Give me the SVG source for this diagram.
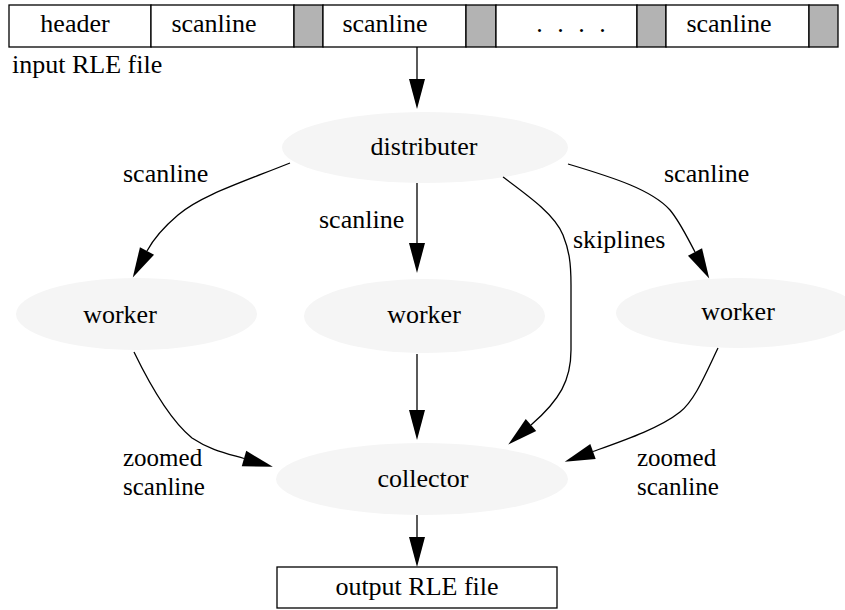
<svg xmlns="http://www.w3.org/2000/svg" width="845" height="610" viewBox="0 0 845 610">
  <style>
    text { font-family: "Liberation Serif", "Times New Roman", serif; font-size: 26px; fill: #000; }
    .mid { text-anchor: middle; }
    .two { font-size: 25px; }
    .node { fill: #f5f5f5; stroke: none; }
    .cell { fill: #fff; stroke: #000; stroke-width: 1.3; }
    .gap { fill: #b3b3b3; stroke: #000; stroke-width: 1.3; }
    .edge { fill: none; stroke: #000; stroke-width: 1.3; marker-end: url(#head); }
  </style>
  <defs>
    <marker id="head" markerUnits="userSpaceOnUse" markerWidth="31" markerHeight="17" refX="0" refY="8" orient="auto" overflow="visible">
      <path d="M0,0 L30,8 L0,16 Z" fill="#000"/>
    </marker>
  </defs>

  <rect width="845" height="610" fill="#fff"/>

  <!-- input file: header, scanlines and padding blocks -->
  <g id="input-file">
    <rect class="cell" x="9" y="5" width="142" height="42"/>
    <rect class="cell" x="151" y="5" width="143" height="42"/>
    <rect class="gap" x="294" y="5" width="29" height="42"/>
    <rect class="cell" x="323" y="5" width="143" height="42"/>
    <rect class="gap" x="466" y="5" width="30" height="42"/>
    <rect class="cell" x="496" y="5" width="141" height="42"/>
    <rect class="gap" x="637" y="5" width="29" height="42"/>
    <rect class="cell" x="666" y="5" width="143" height="42"/>
    <rect class="gap" x="809" y="5" width="29" height="42"/>
    <text class="mid" x="75" y="32">header</text>
    <text class="mid" x="214" y="32">scanline</text>
    <text class="mid" x="385" y="32">scanline</text>
    <text class="mid" x="573" y="32" letter-spacing="4">. . . .</text>
    <text class="mid" x="729" y="32">scanline</text>
    <text x="12" y="73">input RLE file</text>
  </g>

  <g id="distributer">
    <ellipse class="node" cx="425" cy="147.5" rx="143" ry="35.5"/>
    <text class="mid" x="424" y="155">distributer</text>
  </g>

  <g id="worker-left">
    <ellipse class="node" cx="136.5" cy="314" rx="120.5" ry="36"/>
    <text class="mid" x="120" y="323">worker</text>
  </g>

  <g id="worker-middle">
    <ellipse class="node" cx="424.5" cy="316" rx="120.5" ry="37"/>
    <text class="mid" x="424" y="323">worker</text>
  </g>

  <g id="worker-right">
    <ellipse class="node" cx="738" cy="313" rx="122" ry="35"/>
    <text class="mid" x="738" y="320">worker</text>
  </g>

  <g id="collector">
    <ellipse class="node" cx="422" cy="479" rx="146" ry="36"/>
    <text class="mid" x="423" y="487">collector</text>
  </g>

  <g id="output-file">
    <rect class="cell" x="277" y="567" width="280" height="41"/>
    <text class="mid" x="417" y="595">output RLE file</text>
  </g>

  <g id="connectors">
    <path class="edge" d="M417,47 L417,79"/>
    <path class="edge" d="M290,163 C240,183 200,196 178,215 C165,226 154,238 147,251"/>
    <path class="edge" d="M417,183 L417,243"/>
    <path class="edge" d="M568,164 C615,178 652,190 670,210 C680,222 688,239 695,252"/>
    <path class="edge" d="M503,177 C530,197 555,215 563,235 C569,250 571,262 571,285 L571,350 C571,380 560,400 531,425"/>
    <path class="edge" d="M134,352 C150,385 170,420 192,438 C210,450 225,453 244,458.5"/>
    <path class="edge" d="M417,354 L417,410"/>
    <path class="edge" d="M718,348 C705,375 695,400 680,412 C660,428 625,440 593,451.5"/>
    <path class="edge" d="M417,515 L417,537"/>

    <text x="123" y="182">scanline</text>
    <text x="319" y="228">scanline</text>
    <text x="573" y="248">skiplines</text>
    <text x="664" y="182">scanline</text>
    <text class="two" x="123" y="466">zoomed</text>
    <text class="two" x="123" y="495">scanline</text>
    <text class="two" x="637" y="466">zoomed</text>
    <text class="two" x="637" y="495">scanline</text>
  </g>
</svg>
